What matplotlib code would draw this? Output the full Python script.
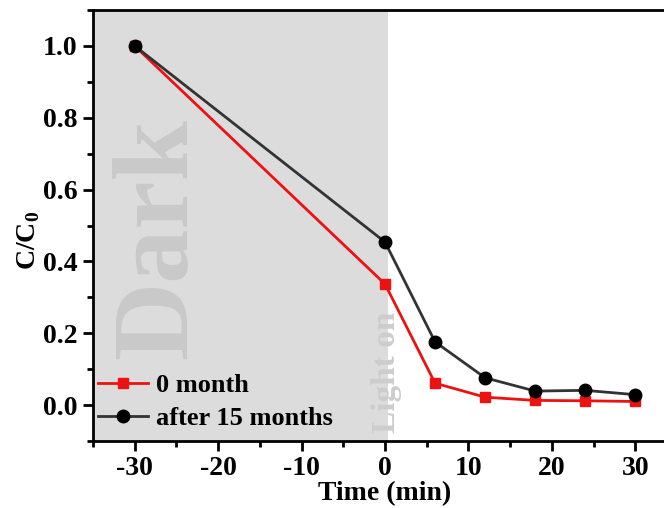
import matplotlib
matplotlib.use("Agg")
import matplotlib.pyplot as plt
from matplotlib.ticker import MultipleLocator, FormatStrFormatter

time = [-30, 0, 6, 12, 18, 24, 30]
month0 = [1.0, 0.337, 0.061, 0.022, 0.013, 0.012, 0.010]
month15 = [1.0, 0.454, 0.176, 0.076, 0.039, 0.041, 0.029]
labels = ["0 month", "after 15 months"]

plt.rcParams['font.family'] = ['Liberation Serif', 'DejaVu Serif']
plt.rcParams['font.weight'] = 'bold'
plt.rcParams['axes.unicode_minus'] = False
plt.rcParams['mathtext.fontset'] = 'custom'
plt.rcParams['mathtext.rm'] = 'Liberation Serif:bold'
plt.rcParams['mathtext.bf'] = 'Liberation Serif:bold'

fig = plt.figure(figsize=(6.64, 5.08), dpi=100)
ax = fig.add_axes([93/664, 67/508, 584/664, 431/508])

ax.axvspan(-35, 0.3, color='#dcdcdc', zorder=0, lw=0)
ax.text(-27.0, 0.465, "Dark", rotation=90, fontsize=78, fontweight='bold',
        color='#c9c9c9', ha='center', va='center', zorder=1)
ax.text(0.2, 0.09, "Light on", rotation=90, fontsize=24, fontweight='bold',
        color='#cdcdcd', ha='center', va='center', zorder=1)

ax.plot(time, month0, color='#ee1111', lw=2, marker='s', ms=7.5,
        label=labels[0], zorder=3)
ax.plot(time, month15, color='#333333', lw=2, marker='o', ms=9,
        markerfacecolor='black', markeredgecolor='black',
        label=labels[1], zorder=4)

ax.set_xlim(-35, 35)
ax.set_ylim(-0.1, 1.1)
ax.set_xticks([-30, -20, -10, 0, 10, 20, 30])
ax.set_yticks([0.0, 0.2, 0.4, 0.6, 0.8, 1.0])
ax.xaxis.set_minor_locator(MultipleLocator(5))
ax.yaxis.set_minor_locator(MultipleLocator(0.1))
ax.yaxis.set_major_formatter(FormatStrFormatter('%.1f'))

for s in ax.spines.values():
    s.set_linewidth(2)
ax.tick_params(which='major', direction='out', length=7, width=2,
               labelsize=20, pad=4)
ax.tick_params(which='minor', direction='out', length=4.5, width=2)
for lab in ax.get_xticklabels() + ax.get_yticklabels():
    lab.set_fontweight('bold')

ax.set_xlabel("Time (min)", fontsize=20, fontweight='bold')
ax.set_ylabel(r"C/C$_\mathbf{0}$", fontsize=20, fontweight='bold')
ax.xaxis.set_label_coords(0.5, -0.123)
ax.yaxis.set_label_coords(-0.11, 0.466)
ax.xaxis.label.set_va('center')
ax.yaxis.label.set_va('center')

ax.legend(loc='lower left', frameon=False,
          prop={'weight': 'bold', 'size': 19}, handlelength=1.9,
          handletextpad=0.3, borderaxespad=0.2, labelspacing=0.36,
          bbox_to_anchor=(-0.018, -0.012))

fig.savefig("out.png", dpi=100)
